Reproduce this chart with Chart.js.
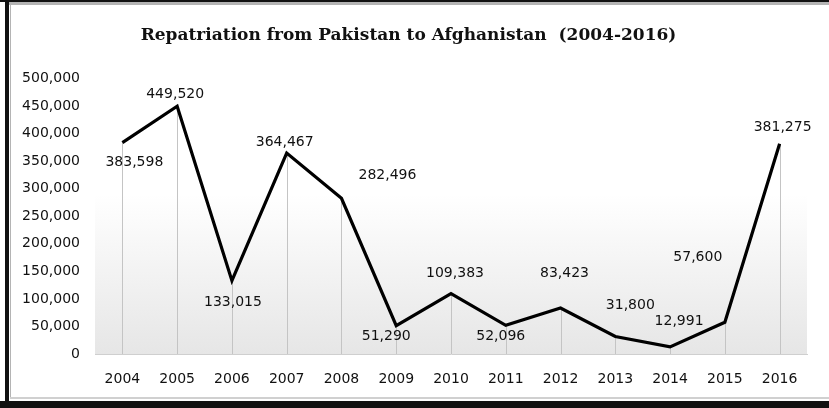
<!DOCTYPE html>
<html>
<head>
<meta charset="utf-8">
<title>Repatriation from Pakistan to Afghanistan</title>
<script src="https://cdn.jsdelivr.net/npm/chart.js@4.4.1/dist/chart.umd.min.js"></script>
<style>
  html, body { margin: 0; padding: 0; background: #fff; }
  #grafico { display: block; }
</style>
</head>
<body>
<canvas id="grafico" width="829" height="408"></canvas>
<script>
// Anos e número de repatriados
const anos = ["2004", "2005", "2006", "2007", "2008", "2009", "2010",
              "2011", "2012", "2013", "2014", "2015", "2016"];
const repatriados = [383598, 449520, 133015, 364467, 282496, 51290, 109383,
                     52096, 83423, 31800, 12991, 57600, 381275];
const marcasY = [0, 50000, 100000, 150000, 200000, 250000,
                 300000, 350000, 400000, 450000, 500000];

// Deslocamento de cada rótulo em relação ao ponto (px)
const deslocRotulos = [
  [12, 20], [-2, -12], [1, 22], [-2, -11], [46, -23], [-10, 11], [4, -20],
  [-5, 11], [4, -35], [15, -31], [9, -25], [-27, -65], [3, -16]
];

const fonteTexto = '"DejaVu Sans", Verdana, sans-serif';

const formatar = v => v.toLocaleString("en-US");

// Fundo em degradê, moldura e linhas de queda
const fundo = {
  id: "fundo",
  beforeDraw(chart) {
    const { ctx, chartArea: a, width, height } = chart;
    ctx.save();
    ctx.fillStyle = "#fff";
    ctx.fillRect(0, 0, width, height);

    const grad = ctx.createLinearGradient(0, a.top, 0, a.bottom);
    grad.addColorStop(0, "#ffffff");
    grad.addColorStop(0.42, "#ffffff");
    grad.addColorStop(1, "#e6e6e6");
    ctx.fillStyle = grad;
    ctx.fillRect(a.left, a.top, a.right - a.left, a.bottom - a.top);

    // moldura
    ctx.fillStyle = "#111";
    ctx.fillRect(0, 0, width, 2);
    ctx.fillRect(5, 0, 4, height);
    ctx.fillRect(0, 401, width, height - 401);
    ctx.fillStyle = "#b4b4b4";
    ctx.fillRect(9, 2, width - 9, 3);
    ctx.fillRect(10, 5, 1, 392);
    ctx.fillStyle = "#d0d0d0";
    ctx.fillRect(10, 397, width - 10, 2);
    ctx.restore();
  },
  beforeDatasetsDraw(chart) {
    const { ctx, scales: { x, y } } = chart;
    const base = y.getPixelForValue(0);
    ctx.save();
    ctx.strokeStyle = "#c4c4c4";
    ctx.lineWidth = 1;
    repatriados.forEach((v, i) => {
      const px = Math.round(x.getPixelForValue(i)) + 0.5;
      ctx.beginPath();
      ctx.moveTo(px, y.getPixelForValue(v));
      ctx.lineTo(px, base);
      ctx.stroke();
    });
    ctx.restore();
  }
};

// Rótulos com os valores
const rotulos = {
  id: "rotulos",
  afterDatasetsDraw(chart) {
    const { ctx } = chart;
    const pontos = chart.getDatasetMeta(0).data;
    ctx.save();
    ctx.font = "14px " + fonteTexto;
    ctx.fillStyle = "#111";
    ctx.textAlign = "center";
    ctx.textBaseline = "middle";
    pontos.forEach((p, i) => {
      const [dx, dy] = deslocRotulos[i];
      ctx.fillText(formatar(repatriados[i]), p.x + dx, p.y + dy);
    });
    ctx.restore();
  }
};

new Chart(document.getElementById("grafico"), {
  type: "line",
  data: {
    labels: anos,
    datasets: [{
      data: repatriados,
      borderColor: "#000",
      borderWidth: 3.2,
      borderJoinStyle: "miter",
      pointRadius: 0,
      tension: 0,
      fill: false
    }]
  },
  options: {
    responsive: false,
    animation: false,
    layout: { padding: { top: 4, left: 10, right: 22, bottom: 0 } },
    plugins: {
      legend: { display: false },
      tooltip: { enabled: false },
      title: {
        display: true,
        text: "Repatriation from Pakistan to Afghanistan  (2004-2016)",
        color: "#111",
        font: { family: '"DejaVu Serif", serif', size: 17, weight: "bold" },
        padding: { top: 21, bottom: 33 }
      }
    },
    scales: {
      x: {
        offset: true,
        grid: { display: false, drawTicks: false },
        border: { color: "#cfcfcf", width: 1 },
        ticks: { color: "#111", padding: 17, font: { family: fonteTexto, size: 14 } },
        afterFit(s) { s.height = 54; }
      },
      y: {
        min: 0,
        max: 500000,
        afterBuildTicks(s) { s.ticks = marcasY.map(v => ({ value: v })); },
        grid: { display: false, drawTicks: false },
        border: { display: false },
        ticks: {
          color: "#111",
          padding: 15,
          font: { family: fonteTexto, size: 14 },
          callback: v => formatar(v)
        },
        afterFit(s) { s.width = 85; }
      }
    }
  },
  plugins: [fundo, rotulos]
});
</script>
</body>
</html>
